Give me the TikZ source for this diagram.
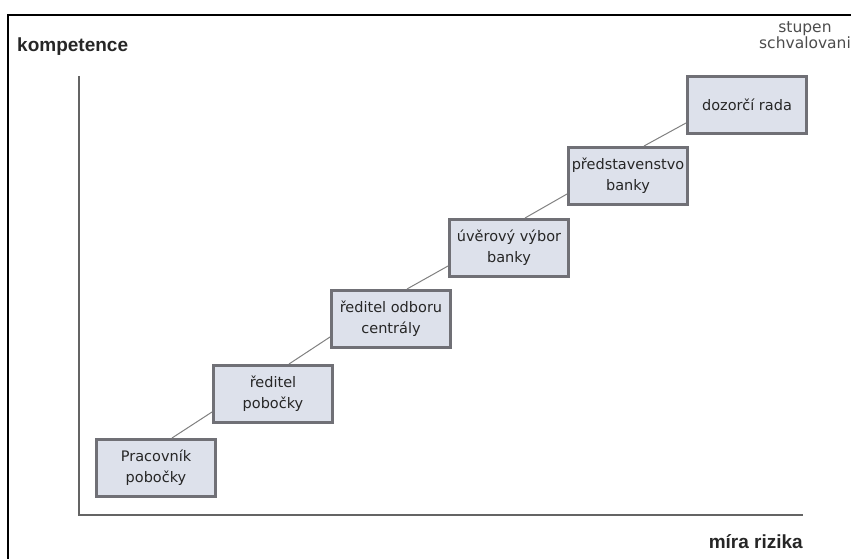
\documentclass[tikz,border=0pt]{standalone}
\usepackage{fontspec}
\setmainfont{DejaVu Sans}
\newfontfamily\axisfont{Liberation Sans}
\definecolor{boxfill}{RGB}{221,225,235}
\definecolor{boxline}{RGB}{112,112,118}
\definecolor{axisgray}{RGB}{100,100,100}
\begin{document}
\begin{tikzpicture}[x=1pt,y=-1pt]
\tikzset{stage/.style = {draw=boxline, fill=boxfill, line width=3pt, minimum width=119pt, minimum height=57pt, inner sep=0pt, align=center, text=black!85, font=\fontsize{14.5}{21}\selectfont},
  link/.style = {draw=gray, line width=1pt},
  axislabel/.style = {font=\axisfont\bfseries\fontsize{19}{22}\selectfont, text=black!85, inner sep=0pt}}
\useasboundingbox (0,0) rectangle (851,559);
\draw[line width=1.5pt] (8,559) -- (8,15) -- (851,15);
\coordinate (top) at (79,76);
\coordinate (origin) at (79,515);
\coordinate (right) at (803,515);
\draw[axisgray, line width=2pt] (top) -- (origin) -- (right);
\node[axislabel, anchor=base west] (yl) at (17,52) {kompetence};
\node[axislabel, anchor=base east] (xl) at (803,548) {míra rizika};
\node[align=center, text=black!70, font=\fontsize{15.5}{16}\selectfont, inner sep=0pt] (st) at (805,35) {stupen\\schvalovani};
\node[stage] (b1) at (156,468) {Pracovník\\pobočky};
\node[stage] (b2) at (273,394) {ředitel\\pobočky};
\node[stage] (b3) at (391,319) {ředitel odboru\\centrály};
\node[stage] (b4) at (509,248) {úvěrový výbor\\banky};
\node[stage] (b5) at (628,176) {představenstvo\\banky};
\node[stage] (b6) at (747,105) {dozorčí rada};
\foreach \a/\b in {b1/b2,b2/b3,b3/b4,b4/b5,b5/b6}
  \draw[link] ([xshift=16pt]\a.north) -- ([yshift=-18pt]\b.west);
\end{tikzpicture}
\end{document}
